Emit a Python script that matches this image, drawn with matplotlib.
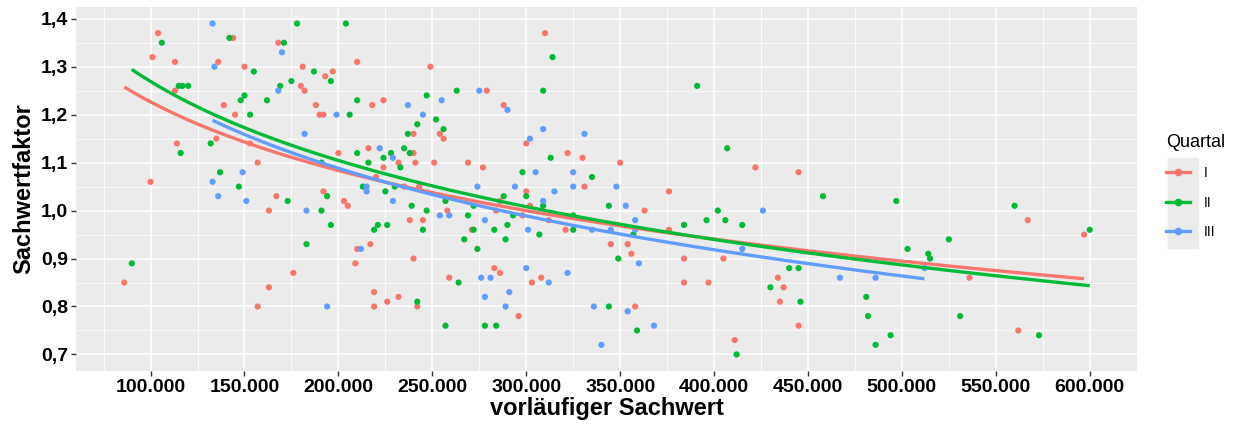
import numpy as np
import matplotlib.pyplot as plt
from matplotlib.lines import Line2D
from matplotlib.patches import Rectangle

plt.rcParams['font.family'] = ['Liberation Sans', 'DejaVu Sans']

quartale = ["I", "II", "III"]
farben = ["#F8766D", "#00BA38", "#619CFF"]

# vorläufiger Sachwert in Tsd. EUR, Sachwertfaktor
q1_wert = [104, 144, 168, 101, 113, 136, 150, 181, 210, 197, 193, 113, 180, 182, 139, 188,
           145, 190, 192, 135, 114, 153, 200, 157, 100, 167, 192, 163, 203, 205, 210, 209,
           86, 176, 163, 157, 218, 224, 249, 279, 288, 254, 256, 240, 310, 300, 322, 330,
           216, 240, 232, 241, 251, 269, 224, 277, 220, 235, 243, 331, 238, 245, 217, 240,
           219, 219, 226, 232, 242, 300, 302, 286, 258, 284, 298, 271, 312, 321, 283, 286,
           259, 303, 308, 296, 363, 376, 345, 354, 356, 376, 384, 405, 384, 397, 434, 437,
           435, 445, 358, 411, 350, 422, 445, 567, 597, 536, 562]
q1_faktor = [1.37, 1.36, 1.35, 1.32, 1.31, 1.31, 1.30, 1.30, 1.31, 1.29, 1.28, 1.25, 1.26, 1.25, 1.22, 1.22,
             1.20, 1.20, 1.20, 1.15, 1.14, 1.14, 1.12, 1.10, 1.06, 1.03, 1.04, 1.00, 1.02, 1.01, 0.92, 0.89,
             0.85, 0.87, 0.84, 0.80, 1.22, 1.23, 1.30, 1.25, 1.22, 1.16, 1.15, 1.16, 1.37, 1.14, 1.12, 1.11,
             1.13, 1.12, 1.10, 1.10, 1.10, 1.10, 1.09, 1.09, 1.07, 1.05, 1.05, 1.05, 0.98, 0.98, 0.93, 0.90,
             0.83, 0.80, 0.81, 0.82, 0.80, 1.04, 1.01, 1.02, 1.00, 1.00, 0.99, 0.96, 0.98, 0.96, 0.88, 0.87,
             0.86, 0.85, 0.86, 0.78, 1.00, 1.04, 0.93, 0.93, 0.91, 0.96, 0.90, 0.90, 0.85, 0.85, 0.86, 0.84,
             0.81, 0.76, 0.80, 0.73, 1.10, 1.09, 1.08, 0.98, 0.95, 0.86, 0.75]

q2_wert = [178, 204, 106, 142, 171, 155, 187, 196, 115, 117, 120, 169, 175, 150, 148, 162,
           210, 153, 206, 132, 116, 210, 191, 137, 147, 173, 194, 191, 196, 183, 90, 247,
           252, 242, 263, 256, 237, 314, 309, 313, 235, 228, 238, 224, 216, 233, 298, 335,
           213, 230, 225, 239, 247, 245, 221, 226, 219, 242, 288, 300, 309, 257, 269, 272,
           293, 290, 272, 283, 307, 325, 325, 344, 267, 289, 274, 264, 257, 278, 284, 344,
           357, 349, 384, 396, 402, 406, 415, 458, 440, 445, 430, 446, 481, 482, 359, 412,
           407, 391, 497, 560, 600, 503, 514, 515, 525, 531, 494, 486, 573]
q2_faktor = [1.39, 1.39, 1.35, 1.36, 1.35, 1.29, 1.29, 1.27, 1.26, 1.26, 1.26, 1.26, 1.27, 1.24, 1.23, 1.23,
             1.23, 1.20, 1.20, 1.14, 1.12, 1.12, 1.10, 1.08, 1.05, 1.02, 1.03, 1.00, 0.97, 0.93, 0.89, 1.24,
             1.19, 1.18, 1.25, 1.17, 1.16, 1.32, 1.25, 1.11, 1.13, 1.12, 1.12, 1.11, 1.10, 1.09, 1.08, 1.07,
             1.05, 1.05, 1.04, 1.01, 1.00, 0.96, 0.97, 0.97, 0.96, 0.81, 1.03, 1.03, 1.01, 1.02, 0.99, 1.01,
             0.99, 0.97, 0.96, 0.96, 0.95, 0.96, 0.99, 1.01, 0.94, 0.94, 0.92, 0.85, 0.76, 0.76, 0.76, 0.80,
             0.95, 0.90, 0.97, 0.98, 1.00, 0.98, 0.97, 1.03, 0.88, 0.88, 0.84, 0.81, 0.82, 0.78, 0.75, 0.70,
             1.13, 1.26, 1.02, 1.01, 0.96, 0.92, 0.91, 0.90, 0.94, 0.78, 0.74, 0.72, 0.74]

q3_wert = [133, 170, 134, 168, 199, 182, 149, 133, 136, 151, 183, 212, 194, 237, 255, 245,
           275, 290, 309, 302, 331, 222, 229, 305, 325, 215, 274, 294, 325, 215, 229, 315,
           309, 254, 259, 278, 301, 335, 300, 276, 281, 312, 322, 291, 278, 289, 336, 340,
           348, 353, 358, 345, 358, 360, 426, 415, 467, 354, 368, 512, 486]
q3_faktor = [1.39, 1.33, 1.30, 1.25, 1.20, 1.16, 1.08, 1.06, 1.03, 1.02, 1.00, 0.92, 0.80, 1.22, 1.23, 1.20,
             1.25, 1.21, 1.17, 1.15, 1.16, 1.13, 1.11, 1.08, 1.08, 1.05, 1.05, 1.05, 1.05, 1.04, 1.02, 1.04,
             1.02, 0.99, 0.99, 0.98, 0.96, 0.96, 0.88, 0.86, 0.86, 0.85, 0.87, 0.83, 0.82, 0.80, 0.80, 0.72,
             1.05, 1.01, 0.98, 0.96, 0.96, 0.89, 1.00, 0.92, 0.86, 0.79, 0.76, 0.88, 0.86]

x_ticks = [100000, 150000, 200000, 250000, 300000, 350000, 400000, 450000, 500000, 550000, 600000]
x_labels = ["100.000", "150.000", "200.000", "250.000", "300.000", "350.000",
            "400.000", "450.000", "500.000", "550.000", "600.000"]
y_ticks = [0.7, 0.8, 0.9, 1.0, 1.1, 1.2, 1.3, 1.4]
y_labels = ["0,7", "0,8", "0,9", "1,0", "1,1", "1,2", "1,3", "1,4"]

gruppen = [(q1_wert, q1_faktor), (q2_wert, q2_faktor), (q3_wert, q3_faktor)]

fig = plt.figure(figsize=(12.39, 4.25), dpi=100)
ax = fig.add_axes([76/1239, 1-371/425, (1138-76)/1239, (371-7)/425])
ax.set_facecolor("#EBEBEB")
for s in ax.spines.values():
    s.set_visible(False)

# Punkte
for (w, f), c in zip(gruppen, farben):
    ax.scatter(np.array(w)*1000, f, s=20, color=c, edgecolors='none', zorder=3)

# log-Trend je Quartal (lm: y ~ log(x))
for (w, f), c in zip(gruppen, farben):
    x = np.array(w)*1000.0
    b, a = np.polyfit(np.log(x), f, 1)
    xs = np.linspace(x.min(), x.max(), 200)
    ax.plot(xs, a + b*np.log(xs), color=c, lw=2.4, zorder=4, solid_capstyle='butt')

ax.set_xlim(60300, 625700)
ax.set_ylim(0.6655, 1.4245)
ax.set_xticks(x_ticks)
ax.set_xticklabels(x_labels, fontweight='bold')
ax.set_xticks(np.arange(75000, 626000, 50000), minor=True)
ax.set_yticks(y_ticks)
ax.set_yticklabels(y_labels, fontweight='bold')
ax.set_yticks(np.arange(0.75, 1.40, 0.1), minor=True)
ax.grid(which='major', color='white', lw=1.1)
ax.grid(which='minor', color='white', lw=0.55)
ax.set_axisbelow(True)
ax.tick_params(which='major', length=3.5, width=1.0, color='#333333', labelsize=14, labelcolor='black', pad=2)
ax.tick_params(which='minor', length=0)

ax.set_xlabel("vorläufiger Sachwert", fontsize=17, fontweight='bold', labelpad=1)
ax.set_ylabel("Sachwertfaktor", fontsize=17, fontweight='bold', labelpad=4)

# Legende
fig.patches.append(Rectangle((1168/1239, 1-248/425), 30/1239, 90/425,
                             transform=fig.transFigure, color='#EBEBEB', zorder=0))
handles = [Line2D([], [], color=c, lw=2.4, marker='o', markersize=4.5) for c in farben]
leg = fig.legend(handles, quartale, title="Quartal", loc='upper left',
                 bbox_to_anchor=(1166/1239, 1-134/425), bbox_transform=fig.transFigure,
                 frameon=False, fontsize=10, title_fontsize=13, handlelength=1.75,
                 handletextpad=1.0, labelspacing=1.1, borderpad=0, borderaxespad=0,
                 alignment='left')

fig.savefig("out.png", dpi=100)
